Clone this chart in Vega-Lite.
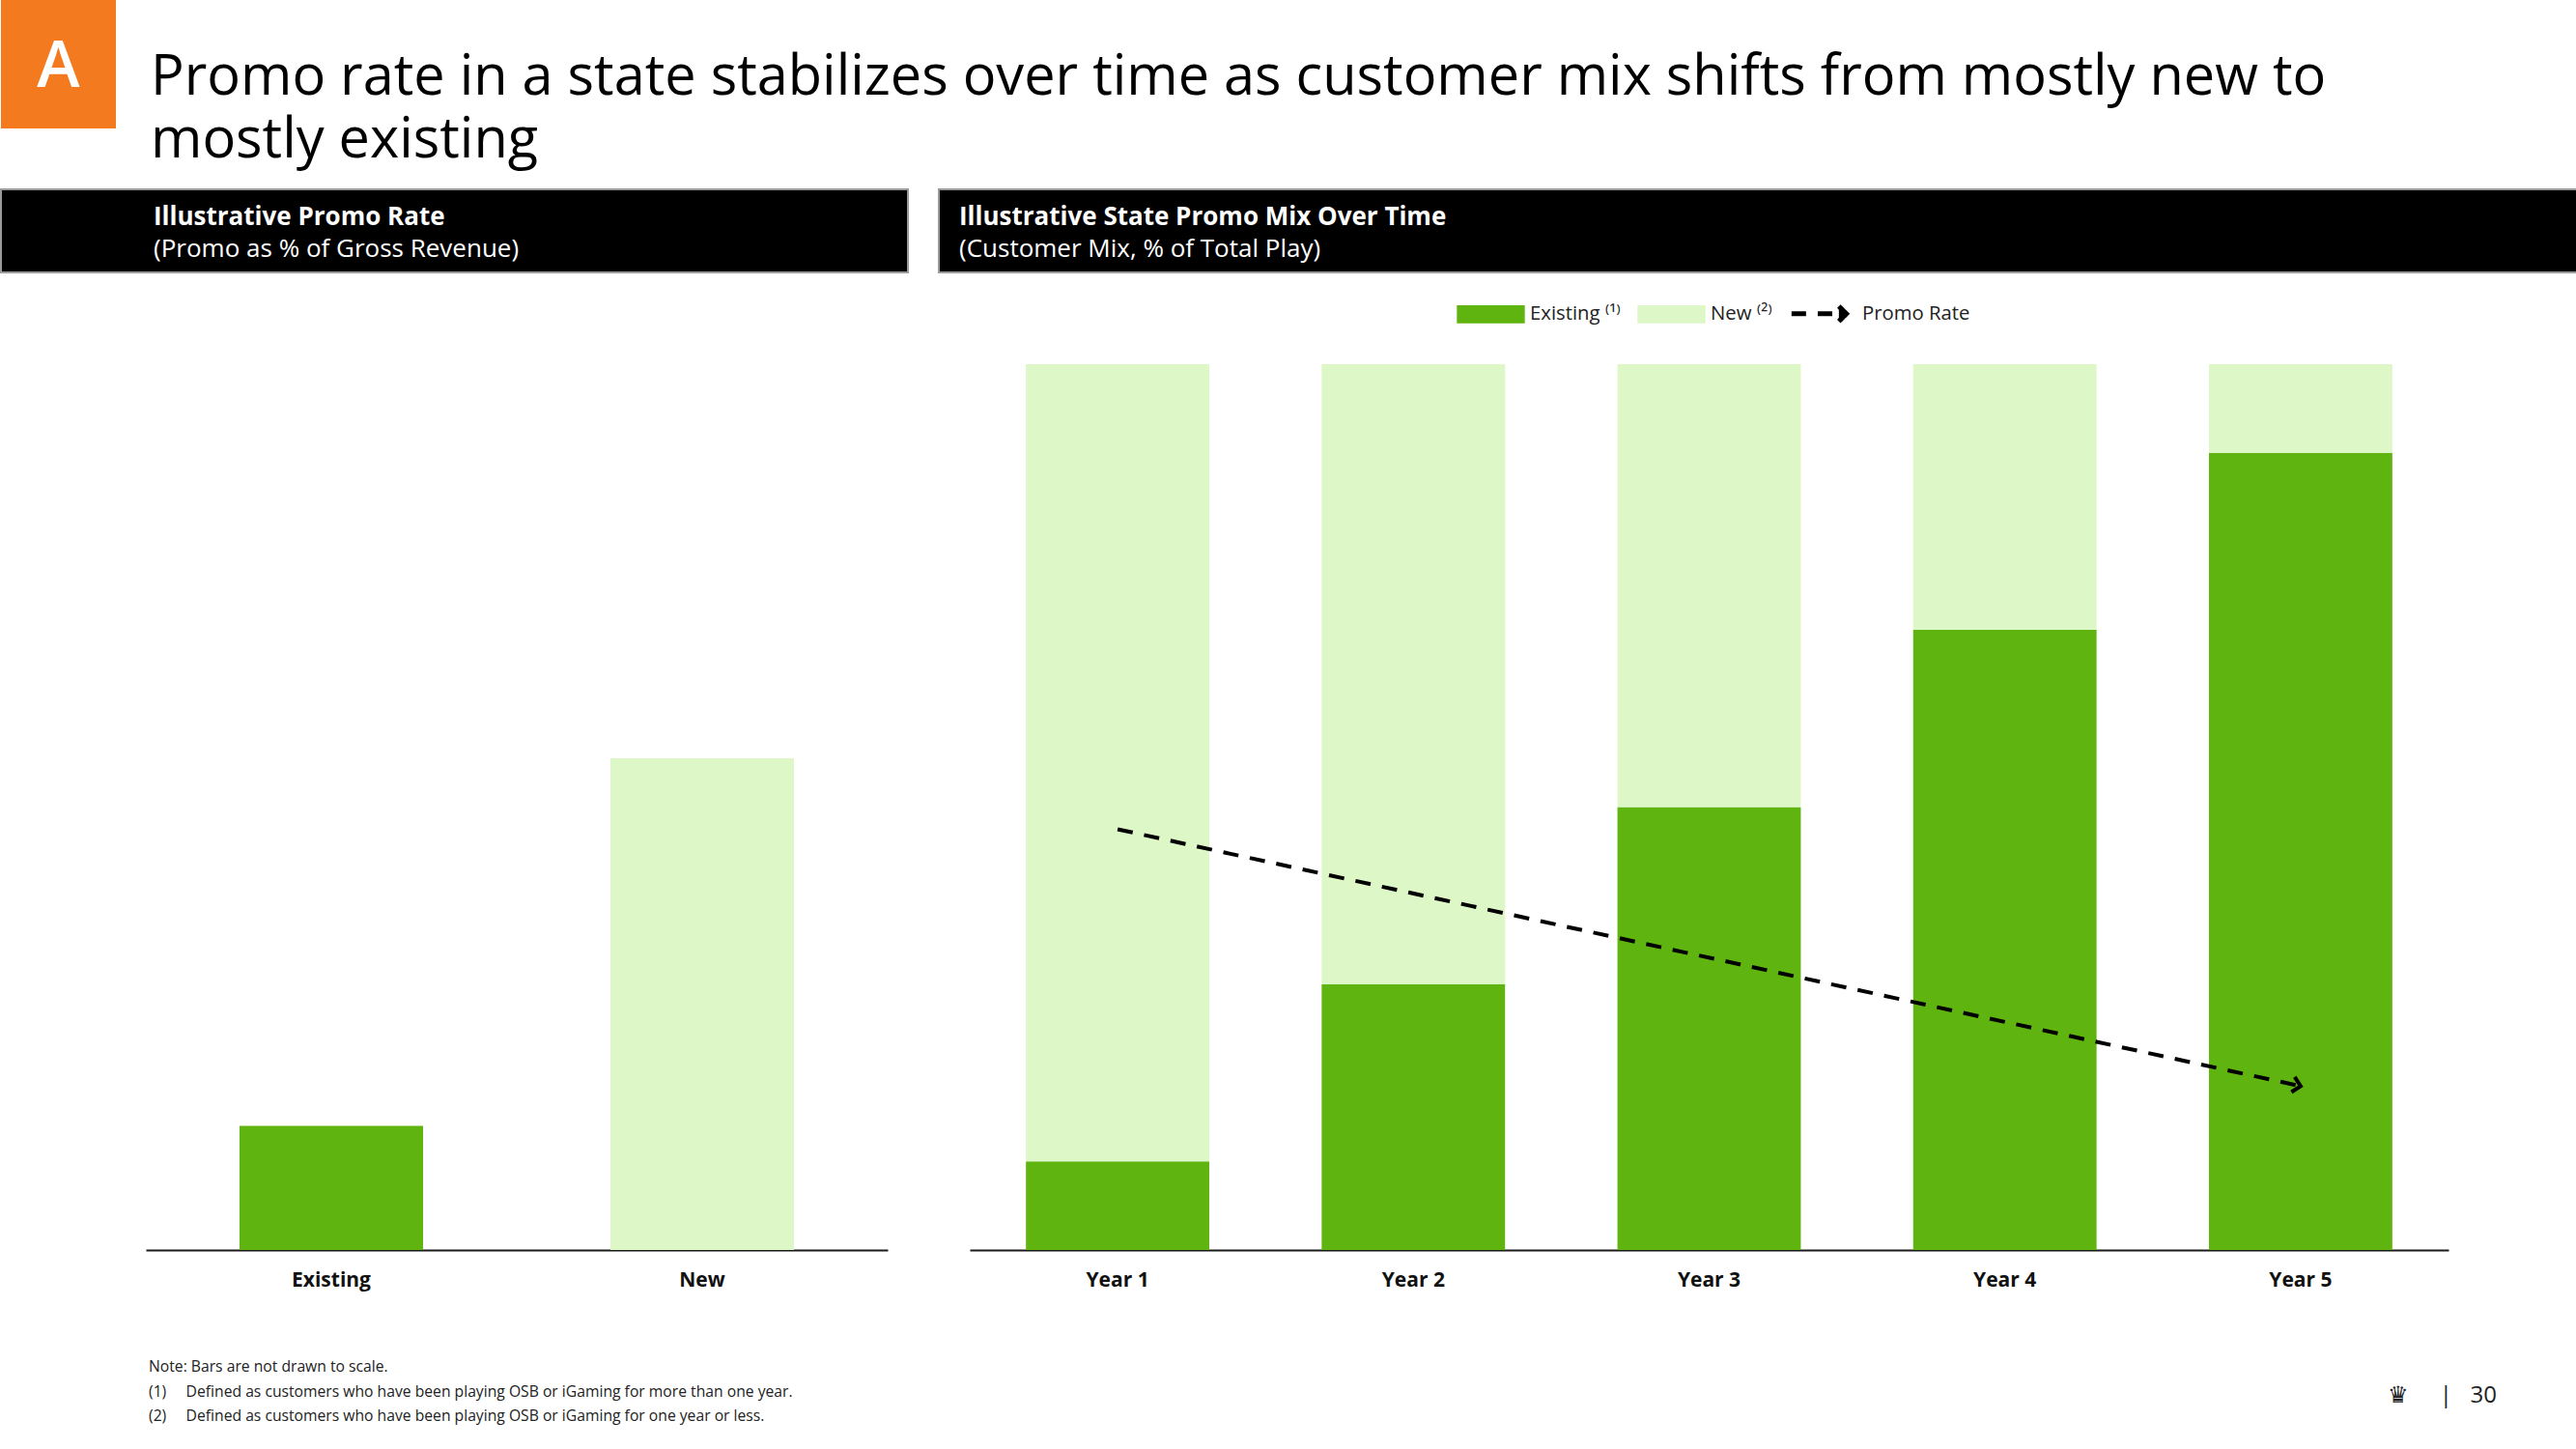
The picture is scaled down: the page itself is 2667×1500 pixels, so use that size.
{
  "$schema": "https://vega.github.io/schema/vega-lite/v6.json",
  "background": "white",
  "padding": {"left": 0, "top": 0, "right": 0, "bottom": 20},
  "autosize": {"type": "pad"},
  "config": {
    "font": "Open Sans",
    "view": {"stroke": null},
    "title": {"font": "Open Sans", "subtitleFont": "Open Sans"},
    "axisX": {"title": null, "domainColor": "#1a1a1a", "domainWidth": 2, "ticks": false, "labelFont": "Open Sans", "labelFontSize": 21, "labelFontWeight": "bold", "labelColor": "#111111", "labelPadding": 20, "labelAngle": 0, "grid": false}
  },
  "spacing": 20,
  "vconcat": [
    {
      "bounds": "flush",
      "spacing": 36,
      "hconcat": [
        {
          "width": 119,
          "height": 133,
          "view": {"fill": "#F47A1F", "stroke": null},
          "title": {"text": "A", "anchor": "middle", "frame": "group", "orient": "top", "offset": -104, "fontSize": 67, "fontWeight": 600, "color": "white"},
          "data": {"values": []},
          "mark": "text"
        },
        {
          "width": 2400,
          "height": 133,
          "title": {"text": "Promo rate in a state stabilizes over time as customer mix shifts from mostly new to", "subtitle": "mostly existing", "anchor": "start", "frame": "group", "orient": "top", "offset": -175, "fontSize": 57.7, "fontWeight": "normal", "color": "black", "subtitleFontSize": 57.7, "subtitleFontWeight": "normal", "subtitleColor": "black", "subtitlePadding": 8},
          "data": {"values": []},
          "mark": "text"
        }
      ]
    },
    {
      "spacing": 6,
      "vconcat": [
        {
          "bounds": "flush",
          "spacing": 32,
          "hconcat": [
            {
              "width": 939,
              "height": 86,
              "view": {"fill": "black", "stroke": "#9a9a9a", "strokeWidth": 2},
              "title": {"text": "Illustrative Promo Rate", "subtitle": "(Promo as % of Gross Revenue)", "anchor": "start", "frame": "group", "orient": "top", "offset": -75, "dx": 158, "fontSize": 26, "fontWeight": "bold", "color": "white", "subtitleColor": "white", "subtitleFontSize": 26, "subtitleFontWeight": "normal", "subtitlePadding": 7},
              "data": {"values": []},
              "mark": "text"
            },
            {
              "width": 1696,
              "height": 86,
              "view": {"fill": "black", "stroke": "#9a9a9a", "strokeWidth": 2},
              "title": {"text": "Illustrative State Promo Mix Over Time", "subtitle": "(Customer Mix, % of Total Play)", "anchor": "start", "frame": "group", "orient": "top", "offset": -75, "dx": 21, "fontSize": 26, "fontWeight": "bold", "color": "white", "subtitleColor": "white", "subtitleFontSize": 26, "subtitleFontWeight": "normal", "subtitlePadding": 7},
              "data": {"values": []},
              "mark": "text"
            }
          ]
        },
        {
          "bounds": "flush",
          "spacing": 85,
          "resolve": {"scale": {"color": "independent", "x": "independent", "y": "independent"}, "legend": {"color": "independent"}},
          "hconcat": [
            {
              "width": 65,
              "height": 917,
              "data": {"values": []},
              "mark": "text"
            },
            {
              "width": 768,
              "height": 917,
              "data": {"values": [
                {"customer": "Existing", "promo_rate": 14},
                {"customer": "New", "promo_rate": 55.5}
              ]},
              "mark": {"type": "bar"},
              "encoding": {
                "x": {"field": "customer", "type": "nominal", "sort": null, "scale": {"paddingInner": 0.505, "paddingOuter": 0.2525}},
                "y": {"field": "promo_rate", "type": "quantitative", "scale": {"domain": [0, 100], "nice": false}, "axis": null},
                "color": {"field": "customer", "type": "nominal", "scale": {"domain": ["Existing", "New"], "range": ["#5FB40F", "#DDF7C6"]}, "legend": null}
              },
              "title": {
                "text": ["Note: Bars are not drawn to scale.", "(1)\u00a0\u00a0\u00a0\u00a0\u00a0Defined as customers who have been playing OSB or iGaming for more than one year.", "(2)\u00a0\u00a0\u00a0\u00a0\u00a0Defined as customers who have been playing OSB or iGaming for one year or less."],
                "orient": "bottom", "anchor": "start", "frame": "group", "offset": 73, "dx": 3, "fontSize": 15.7, "fontWeight": "normal", "lineHeight": 25.5, "color": "#222222"
              }
            },
            {
              "width": 1531,
              "height": 917,
              "title": {"text": "\u265b\u00a0\u00a0\u00a0\u00a0\u00a0|\u00a0\u00a0\u00a030", "orient": "bottom", "anchor": "end", "frame": "group", "offset": 98, "dx": 50, "fontSize": 24, "fontWeight": "normal", "color": "#222222"},
              "layer": [
                {
                  "data": {"values": [
                    {"year": "Year 1", "segment": "Existing", "share": 10},
                    {"year": "Year 1", "segment": "New", "share": 90},
                    {"year": "Year 2", "segment": "Existing", "share": 30},
                    {"year": "Year 2", "segment": "New", "share": 70},
                    {"year": "Year 3", "segment": "Existing", "share": 50},
                    {"year": "Year 3", "segment": "New", "share": 50},
                    {"year": "Year 4", "segment": "Existing", "share": 70},
                    {"year": "Year 4", "segment": "New", "share": 30},
                    {"year": "Year 5", "segment": "Existing", "share": 90},
                    {"year": "Year 5", "segment": "New", "share": 10}
                  ]},
                  "mark": {"type": "bar"},
                  "encoding": {
                    "x": {"field": "year", "type": "nominal", "sort": null, "scale": {"paddingInner": 0.38, "paddingOuter": 0.19}},
                    "y": {"field": "share", "type": "quantitative", "stack": "zero", "scale": {"domain": [0, 100], "nice": false}, "axis": null},
                    "order": {"field": "segment", "type": "ordinal", "sort": "ascending"},
                    "color": {
                      "field": "segment", "type": "nominal",
                      "scale": {"domain": ["Existing", "New", "Promo Rate"], "range": ["#5FB40F", "#DDF7C6", "#000000"]},
                      "legend": {
                        "title": null, "orient": "none", "direction": "horizontal", "legendX": 504, "legendY": -88, "padding": 0,
                        "symbolSize": 4270, "labelOffset": 5, "columnPadding": 9,
                        "labelFont": "Open Sans", "labelFontSize": 20.3, "labelColor": "#222222",
                        "labelExpr": "datum.label === 'Existing' ? 'Existing \u207d\u00b9\u207e' : datum.label === 'New' ? 'New \u207d\u00b2\u207e' : datum.label",
                        "encode": {
                          "symbols": {
                            "update": {
                              "shape": {"signal": "datum.value === 'Promo Rate' ? 'M-1,0L-0.54,0M-0.17,0L0.29,0M0.5,-0.24L0.74,0L0.5,0.24' : 'M-1,-0.21L1,-0.21L1,0.21L-1,0.21Z'"},
                              "fill": {"signal": "datum.value === 'Existing' ? '#5FB40F' : datum.value === 'New' ? '#DDF7C6' : 'transparent'"},
                              "stroke": {"signal": "datum.value === 'Promo Rate' ? '#000000' : 'transparent'"},
                              "strokeWidth": {"value": 5},
                              "strokeDash": {"value": [1, 0]},
                              "size": {"value": 4270},
                              "opacity": {"value": 1}
                            }
                          }
                        }
                      }
                    }
                  }
                },
                {
                  "data": {"values": [
                    {"year": "Year 1", "segment": "Promo Rate", "promo_rate": 47.5},
                    {"year": "Year 5", "segment": "Promo Rate", "promo_rate": 18.5}
                  ]},
                  "layer": [
                    {
                      "mark": {"type": "line", "strokeDash": [16, 12], "strokeWidth": 4},
                      "encoding": {
                        "x": {"field": "year", "type": "nominal", "sort": null},
                        "y": {"field": "promo_rate", "type": "quantitative"},
                        "color": {"field": "segment", "type": "nominal"}
                      }
                    },
                    {
                      "transform": [{"filter": "datum.year === 'Year 5'"}],
                      "mark": {"type": "point", "shape": "M-1,-1L0,0L-1,1", "filled": false, "strokeWidth": 4, "size": 256, "angle": 12.2, "opacity": 1},
                      "encoding": {
                        "x": {"field": "year", "type": "nominal", "sort": null},
                        "y": {"field": "promo_rate", "type": "quantitative"},
                        "color": {"field": "segment", "type": "nominal"}
                      }
                    }
                  ]
                }
              ]
            }
          ]
        }
      ]
    }
  ]
}
